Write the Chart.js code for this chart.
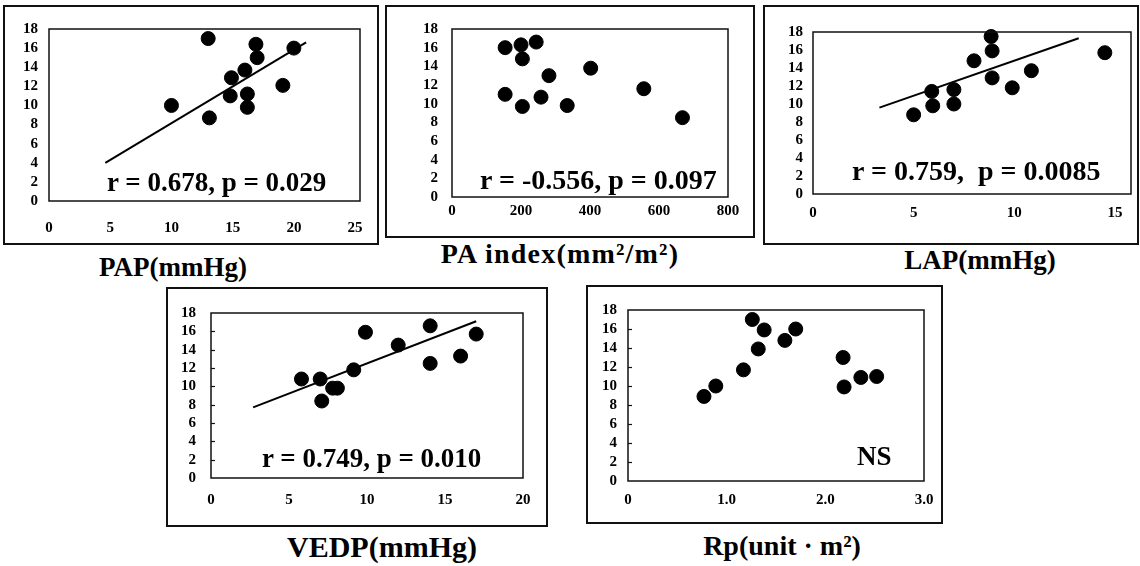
<!DOCTYPE html>
<html>
<head>
<meta charset="utf-8">
<script src="https://cdn.jsdelivr.net/npm/chart.js@4.4.1/dist/chart.umd.min.js"></script>
<style>
  html, body { margin:0; padding:0; background:#fff; }
  #wrap { position:relative; width:1140px; height:566px; background:#fff; overflow:hidden; }
  canvas { position:absolute; }
  .txt { position:absolute; font-family:"Liberation Serif","Times New Roman",serif; font-weight:bold; color:#000; white-space:nowrap; line-height:1; }
  .ctr { transform:translateX(-50%); }
</style>
</head>
<body>
<div id="wrap">
  <canvas id="c1"></canvas>
  <canvas id="c2"></canvas>
  <canvas id="c3"></canvas>
  <canvas id="c4"></canvas>
  <canvas id="c5"></canvas>

  <div class="txt" style="left:107px;top:169px;font-size:27px;">r = 0.678, p = 0.029</div>
  <div class="txt" style="left:480px;top:166px;font-size:28px;">r = -0.556, p = 0.097</div>
  <div class="txt" style="left:852px;top:157px;font-size:28px;">r = 0.759,&nbsp; p = 0.0085</div>
  <div class="txt" style="left:262px;top:445px;font-size:27px;">r = 0.749, p = 0.010</div>
  <div class="txt" style="left:857px;top:443px;font-size:27px;">NS</div>

  <div class="txt ctr" style="left:173px;top:254px;font-size:27px;">PAP(mmHg)</div>
  <div class="txt ctr" style="left:560px;top:240px;font-size:28px;letter-spacing:1.2px;">PA index(mm²/m²)</div>
  <div class="txt ctr" style="left:980px;top:247px;font-size:27px;">LAP(mmHg)</div>
  <div class="txt ctr" style="left:382px;top:532px;font-size:30px;">VEDP(mmHg)</div>
  <div class="txt ctr" style="left:782px;top:532px;font-size:28px;">Rp(unit&nbsp;·&nbsp;m²)</div>
</div>
<script>
// ---------- data ----------
const yTicks = [0, 2, 4, 6, 8, 10, 12, 14, 16, 18];

const papTicks = [0, 5, 10, 15, 20, 25];
const papX = [10, 13, 13.1, 14.8, 14.9, 16.0, 16.2, 16.2, 16.9, 17.0, 19.1, 20.0];
const papY = [10, 17, 8.7, 11, 12.9, 13.7, 11.2, 9.8, 16.4, 15, 12.1, 16];
const papFitX = [4.6, 21.0];
const papFitY = [4.0, 16.6];

const paiTicks = [0, 200, 400, 600, 800];
const paiX = [154, 154, 200, 204, 204, 244, 258, 281, 334, 402, 556, 668];
const paiY = [16, 11, 16.3, 14.8, 9.7, 16.6, 10.7, 13.0, 9.8, 13.8, 11.6, 8.5];

const lapTicks = [0, 5, 10, 15];
const lapX = [5.0, 5.9, 5.95, 7.0, 7.0, 8.0, 8.85, 8.9, 8.9, 9.9, 10.85, 14.5];
const lapY = [8.8, 11.4, 9.8, 11.6, 10.0, 14.8, 17.5, 15.9, 12.9, 11.8, 13.7, 15.7];
const lapFitX = [3.3, 13.2];
const lapFitY = [9.6, 17.3];

const vedpTicks = [0, 5, 10, 15, 20];
const vedpX = [5.8, 7.0, 7.1, 7.8, 8.1, 9.15, 9.9, 12.0, 14.05, 14.05, 16.0, 17.0];
const vedpY = [10.8, 10.8, 8.4, 9.8, 9.8, 11.8, 15.9, 14.5, 16.6, 12.5, 13.3, 15.7];
const vedpFitX = [2.7, 17.0];
const vedpFitY = [7.7, 17.1];

const rpTicks = [0, 1, 2, 3];
const rpTickLabels = ['0', '1.0', '2.0', '3.0'];
const rpX = [0.77, 0.89, 1.17, 1.26, 1.32, 1.38, 1.59, 1.70, 2.18, 2.19, 2.36, 2.52];
const rpY = [8.9, 10.0, 11.7, 17.0, 13.9, 15.9, 14.8, 16.0, 13.0, 9.9, 10.9, 11.0];

// ---------- helpers ----------
const pts = (xs, ys) => xs.map((x, i) => ({ x: x, y: ys[i] }));
const FONT = { family: '"Liberation Serif", "Times New Roman", serif', weight: 'bold', size: 15 };

const framePlugin = {
  id: 'frame',
  afterDraw(chart, args, opts) {
    const ctx = chart.ctx, a = chart.chartArea;
    ctx.save();
    ctx.strokeStyle = '#111';
    ctx.lineWidth = 1.5;
    ctx.strokeRect(a.left, a.top, a.right - a.left, a.bottom - a.top);
    ctx.lineWidth = 2;
    ctx.strokeRect(1, 1, chart.width - 2, chart.height - 2);
    if (opts && opts.inTicks) {
      const ys = chart.scales.y;
      ctx.lineWidth = 1.2;
      yTicks.forEach(v => {
        if (v === 0 || v === 18) return;
        const py = Math.round(ys.getPixelForValue(v)) + 0.5;
        ctx.beginPath();
        ctx.moveTo(a.left, py);
        ctx.lineTo(a.left + 4, py);
        ctx.stroke();
      });
    }
    ctx.restore();
  }
};

function makeChart(id, box, plot, s) {
  const cv = document.getElementById(id);
  cv.width = box.w; cv.height = box.h;
  cv.style.left = box.x + 'px'; cv.style.top = box.y + 'px';
  cv.style.width = box.w + 'px'; cv.style.height = box.h + 'px';
  const datasets = [{
    type: 'scatter',
    data: pts(s.xs, s.ys),
    backgroundColor: '#000',
    borderColor: '#000',
    pointRadius: 7,
    pointHoverRadius: 7,
    clip: false
  }];
  if (s.fitX) {
    datasets.push({
      type: 'line',
      data: pts(s.fitX, s.fitY),
      borderColor: '#000',
      borderWidth: 2,
      pointRadius: 0,
      showLine: true,
      fill: false,
      clip: false
    });
  }
  return new Chart(cv, {
    type: 'scatter',
    data: { datasets },
    plugins: [framePlugin],
    options: {
      responsive: false,
      animation: false,
      devicePixelRatio: 1,
      events: [],
      layout: { padding: { left: 0, top: plot.t - box.y, right: box.x + box.w - plot.r, bottom: 0 } },
      plugins: { legend: { display: false }, tooltip: { enabled: false }, frame: { inTicks: !!s.inTicks } },
      scales: {
        x: {
          type: 'linear', min: s.xmin, max: s.xmax,
          grid: { display: false, drawTicks: false },
          border: { display: false },
          ticks: {
            font: FONT, color: '#000', padding: s.xpad, maxRotation: 0, autoSkip: false,
            callback: (v) => s.xLabels ? s.xLabels[s.xTicks.indexOf(v)] : String(v)
          },
          afterBuildTicks: (sc) => { sc.ticks = s.xTicks.map(v => ({ value: v })); },
          afterFit: (sc) => { sc.height = box.y + box.h - plot.b; sc.paddingLeft = 0; sc.paddingRight = 0; }
        },
        y: {
          type: 'linear', min: 0, max: 18,
          grid: { display: false, drawTicks: false },
          border: { display: false },
          ticks: { font: FONT, color: '#000', padding: s.ypad, autoSkip: false },
          afterBuildTicks: (sc) => { sc.ticks = yTicks.map(v => ({ value: v })); },
          afterFit: (sc) => { sc.width = plot.l - box.x; sc.paddingTop = 0; sc.paddingBottom = 0; }
        }
      }
    }
  });
}

makeChart('c1', { x: 3, y: 5, w: 376, h: 240 }, { l: 49, t: 29, r: 360, b: 201 },
  { xs: papX, ys: papY, fitX: papFitX, fitY: papFitY, xmin: 0, xmax: 25.4, xTicks: papTicks, xpad: 18, ypad: 11 });
makeChart('c2', { x: 385, y: 5, w: 370, h: 233 }, { l: 452, t: 29, r: 728, b: 197 },
  { xs: paiX, ys: paiY, xmin: 0, xmax: 800, xTicks: paiTicks, xpad: 5, ypad: 14 });
makeChart('c3', { x: 763, y: 5, w: 376, h: 240 }, { l: 813, t: 32, r: 1132, b: 194 },
  { xs: lapX, ys: lapY, fitX: lapFitX, fitY: lapFitY, xmin: 0, xmax: 15.8, xTicks: lapTicks, xpad: 10, ypad: 10 });
makeChart('c4', { x: 166, y: 287, w: 382, h: 240 }, { l: 211, t: 313, r: 523, b: 478 },
  { xs: vedpX, ys: vedpY, fitX: vedpFitX, fitY: vedpFitY, xmin: 0, xmax: 20, xTicks: vedpTicks, xpad: 13, ypad: 15, inTicks: true });
makeChart('c5', { x: 586, y: 285, w: 357, h: 239 }, { l: 628, t: 310, r: 924, b: 481 },
  { xs: rpX, ys: rpY, xmin: 0, xmax: 3, xTicks: rpTicks, xLabels: rpTickLabels, xpad: 10, ypad: 11, inTicks: true });
</script>
</body>
</html>
